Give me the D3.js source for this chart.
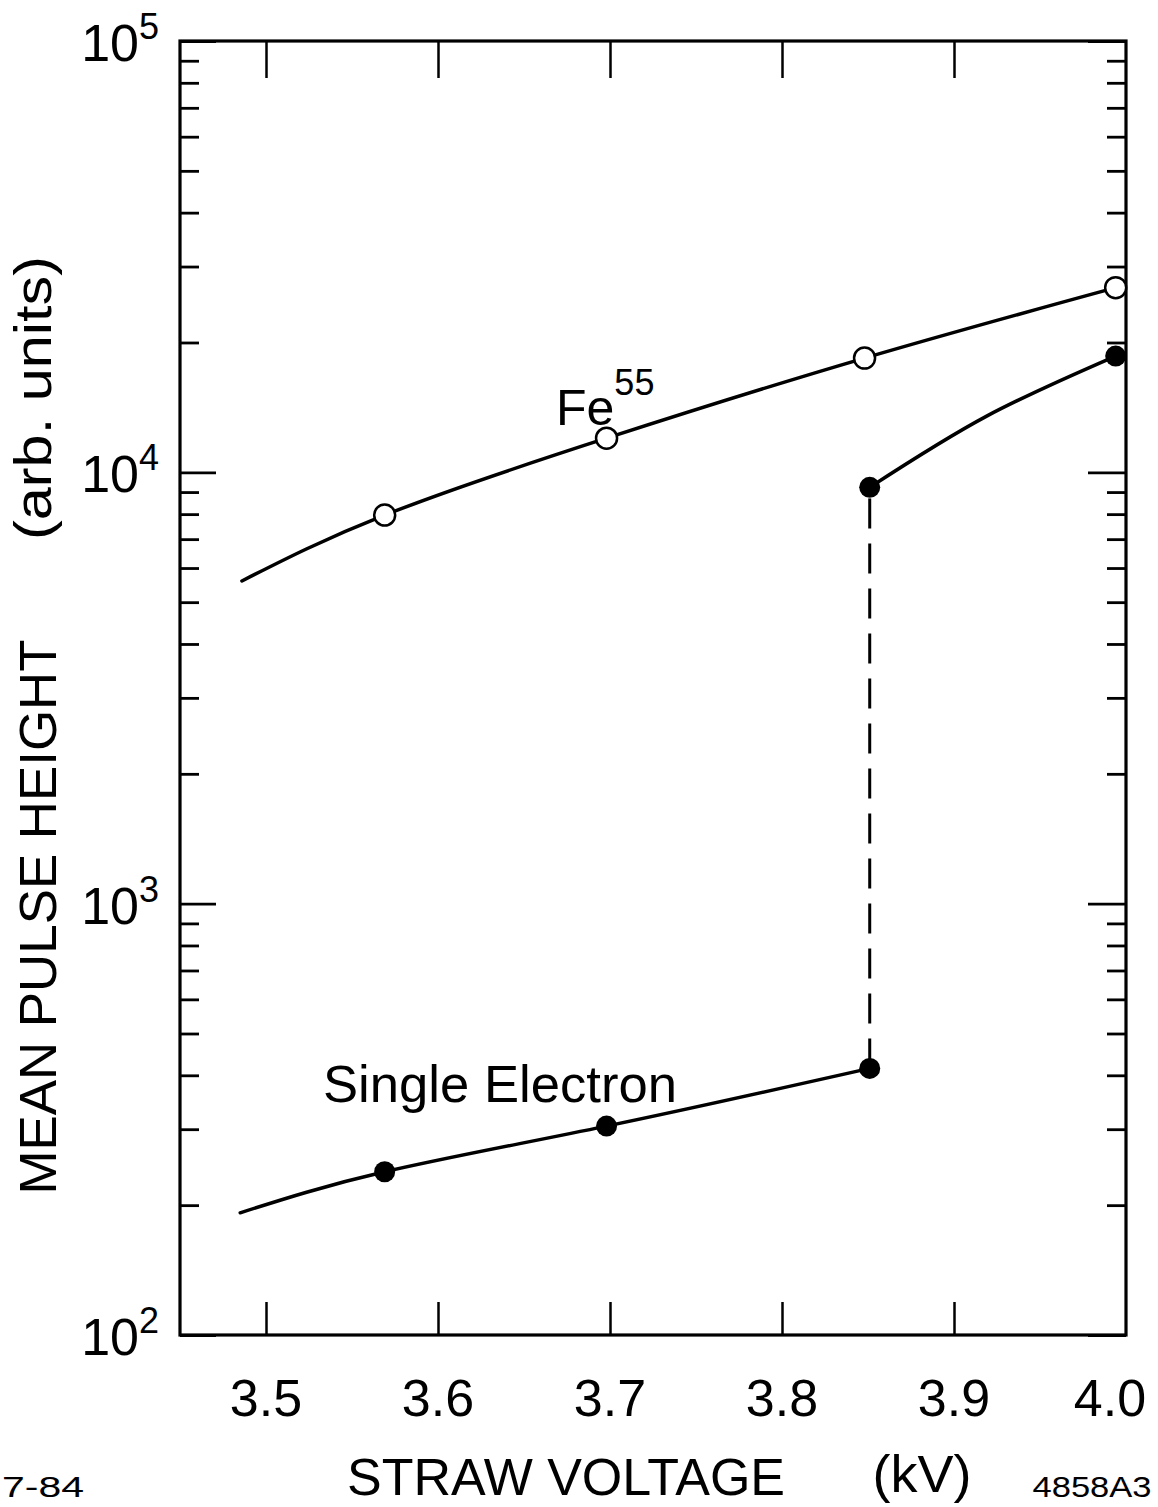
<!DOCTYPE html>
<html>
<head>
<meta charset="utf-8">
<title>Mean pulse height vs straw voltage</title>
<script src="https://d3js.org/d3.v7.min.js"></script>
<style>
  body { margin: 0; background: #fff; }
  text { font-family: "Liberation Sans", Arial, sans-serif; fill: #000; }
</style>
</head>
<body>
<svg id="chart"></svg>
<script>
// data (kV, arb. units)
var xTicks = [3.5, 3.6, 3.7, 3.8, 3.9, 4.0];
var yDecades = [2, 3, 4, 5];

var fePoints = [[3.569, 7960], [3.698, 12000], [3.848, 18400], [3.994, 26800]];
var feCurve = [[3.486, 5600], [3.569, 7960], [3.698, 12000], [3.848, 18400], [3.994, 26800]];

var seLowPoints = [[3.569, 239], [3.698, 305], [3.851, 415]];
var seLowCurve = [[3.485, 192], [3.569, 239], [3.698, 305], [3.851, 415]];
var seHighPoints = [[3.851, 9230], [3.994, 18600]];
var seHighCurve = [[3.851, 9230], [3.919, 13500], [3.994, 18600]];

var width = 1158, height = 1507;
// plot frame (note: "top" is taken by window.top, so use pLeft etc.)
var pLeft = 180, pRight = 1126, pTop = 41, pBottom = 1335;

var svg = d3.select('#chart')
    .attr('width', width)
    .attr('height', height);

var x = d3.scaleLinear()
    .domain([3.45, 4.0])
    .range([pLeft, pRight]);

var y = d3.scaleLog()
    .domain([100, 100000])
    .range([pBottom, pTop]);

// minor ticks 2..9 in each decade
var minor = [];
[2, 3, 4].forEach(function(k) {
    for (var m = 2; m <= 9; m++) minor.push(m * Math.pow(10, k));
});
var major = yDecades.map(function(k) { return Math.pow(10, k); });

function styleAxis(g, w) {
    g.select('.domain').remove();
    g.selectAll('.tick line').attr('stroke', '#000').attr('stroke-width', w);
    g.selectAll('.tick text').remove();
}

// x ticks, bottom and top, pointing in
svg.append('g')
    .attr('transform', 'translate(0,' + pBottom + ')')
    .call(d3.axisBottom(x).tickValues(xTicks.slice(0, 5)).tickSize(-33))
    .call(styleAxis, 2.5);
svg.append('g')
    .attr('transform', 'translate(0,' + pTop + ')')
    .call(d3.axisTop(x).tickValues(xTicks.slice(0, 5)).tickSize(-37))
    .call(styleAxis, 2.5);

// y ticks, left and right
svg.append('g')
    .attr('transform', 'translate(' + pLeft + ',0)')
    .call(d3.axisLeft(y).tickValues(major).tickSize(-36))
    .call(styleAxis, 2.8);
svg.append('g')
    .attr('transform', 'translate(' + pLeft + ',0)')
    .call(d3.axisLeft(y).tickValues(minor).tickSize(-19))
    .call(styleAxis, 2.8);
svg.append('g')
    .attr('transform', 'translate(' + pRight + ',0)')
    .call(d3.axisRight(y).tickValues(major).tickSize(-38))
    .call(styleAxis, 2.8);
svg.append('g')
    .attr('transform', 'translate(' + pRight + ',0)')
    .call(d3.axisRight(y).tickValues(minor).tickSize(-19))
    .call(styleAxis, 2.8);

// frame
svg.append('rect')
    .attr('x', pLeft).attr('y', pTop)
    .attr('width', pRight - pLeft).attr('height', pBottom - pTop)
    .attr('fill', 'none').attr('stroke', '#000').attr('stroke-width', 3.2);

// x tick labels (the last one sits a bit left of its tick, as in the figure)
svg.selectAll('.xlab')
    .data(xTicks)
  .enter().append('text')
    .attr('class', 'xlab')
    .attr('x', function(d) { return Math.min(x(d), 1110); })
    .attr('y', 1416)
    .attr('text-anchor', 'middle')
    .attr('font-size', 52)
    .text(function(d) { return d.toFixed(1); });

// y tick labels 10^k
var ylab = svg.selectAll('.ylab')
    .data(yDecades)
  .enter().append('text')
    .attr('class', 'ylab')
    .attr('x', 159)
    .attr('y', function(d) { return y(Math.pow(10, d)) + 20; })
    .attr('text-anchor', 'end')
    .attr('font-size', 52);
ylab.append('tspan').text('10');
ylab.append('tspan')
    .attr('font-size', 36)
    .attr('dy', -22)
    .text(function(d) { return d; });

// axis titles
svg.append('text')
    .attr('x', 566).attr('y', 1495)
    .attr('text-anchor', 'middle')
    .attr('font-size', 51)
    .attr('textLength', 438).attr('lengthAdjust', 'spacingAndGlyphs')
    .text('STRAW VOLTAGE');
svg.append('text')
    .attr('x', 922).attr('y', 1492)
    .attr('text-anchor', 'middle')
    .attr('font-size', 51)
    .attr('textLength', 99).attr('lengthAdjust', 'spacingAndGlyphs')
    .text('(kV)');
svg.append('text')
    .attr('x', 1092).attr('y', 1497)
    .attr('text-anchor', 'middle')
    .attr('font-size', 30)
    .attr('textLength', 119).attr('lengthAdjust', 'spacingAndGlyphs')
    .text('4858A3');
svg.append('text')
    .attr('x', 2).attr('y', 1497)
    .attr('font-size', 30)
    .attr('textLength', 82).attr('lengthAdjust', 'spacingAndGlyphs')
    .text('7-84');

svg.append('text')
    .attr('transform', 'translate(56,917) rotate(-90)')
    .attr('text-anchor', 'middle')
    .attr('font-size', 52)
    .attr('textLength', 555).attr('lengthAdjust', 'spacingAndGlyphs')
    .text('MEAN PULSE HEIGHT');
svg.append('text')
    .attr('transform', 'translate(51,398) rotate(-90)')
    .attr('text-anchor', 'middle')
    .attr('font-size', 52)
    .attr('textLength', 284).attr('lengthAdjust', 'spacingAndGlyphs')
    .text('(arb. units)');

// curves
var line = d3.line()
    .x(function(d) { return x(d[0]); })
    .y(function(d) { return y(d[1]); })
    .curve(d3.curveNatural);

[feCurve, seLowCurve, seHighCurve].forEach(function(c) {
    svg.append('path')
        .attr('d', line(c))
        .attr('fill', 'none')
        .attr('stroke', '#000')
        .attr('stroke-width', 3.5)
        .attr('stroke-linecap', 'round');
});

// dashed jump at 3.85 kV
svg.append('line')
    .attr('x1', x(seLowPoints[2][0])).attr('x2', x(seHighPoints[0][0]))
    .attr('y1', y(seLowPoints[2][1])).attr('y2', y(seHighPoints[0][1]))
    .attr('stroke', '#000')
    .attr('stroke-width', 3)
    .attr('stroke-dasharray', '30,15');

// markers
svg.selectAll('.fe')
    .data(fePoints)
  .enter().append('circle')
    .attr('class', 'fe')
    .attr('cx', function(d) { return x(d[0]); })
    .attr('cy', function(d) { return y(d[1]); })
    .attr('r', 10.5)
    .attr('fill', '#fff')
    .attr('stroke', '#000')
    .attr('stroke-width', 2.5);

svg.selectAll('.se')
    .data(seLowPoints.concat(seHighPoints))
  .enter().append('circle')
    .attr('class', 'se')
    .attr('cx', function(d) { return x(d[0]); })
    .attr('cy', function(d) { return y(d[1]); })
    .attr('r', 10.5)
    .attr('fill', '#000');

// curve labels
var fe = svg.append('text')
    .attr('x', 556).attr('y', 425)
    .attr('font-size', 50);
fe.append('tspan').text('Fe');
fe.append('tspan').attr('font-size', 36).attr('dy', -30).text('55');

svg.append('text')
    .attr('x', 323).attr('y', 1102)
    .attr('font-size', 52)
    .attr('textLength', 354).attr('lengthAdjust', 'spacingAndGlyphs')
    .text('Single Electron');
</script>
</body>
</html>
